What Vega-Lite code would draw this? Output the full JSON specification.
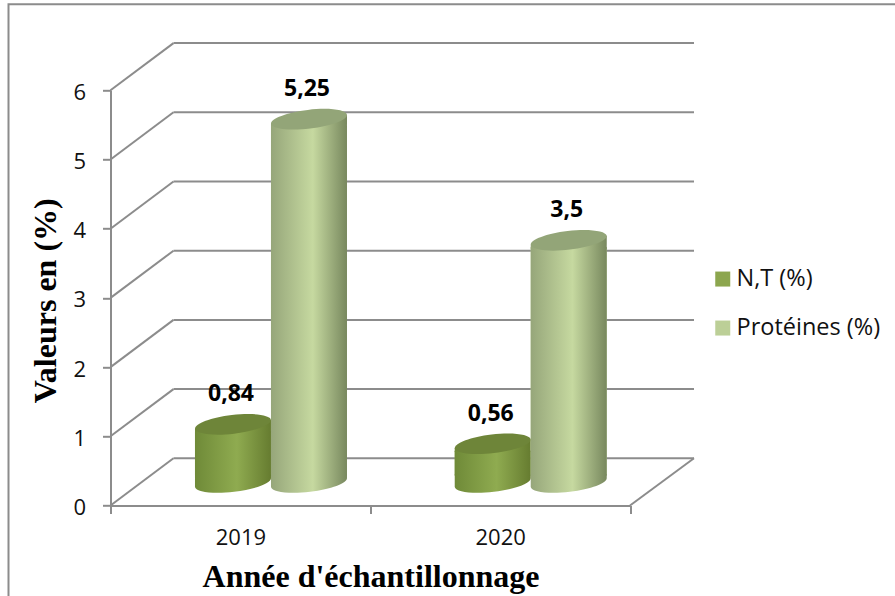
{
  "$schema": "https://vega.github.io/schema/vega-lite/v6.json",
  "width": 519.5,
  "height": 415.2,
  "autosize": "none",
  "padding": {"left": 110.5, "top": 90.3, "right": 265, "bottom": 90.5},
  "background": "white",
  "config": {
    "view": {"stroke": null},
    "locale": {"number": {"decimal": ",", "thousands": " ", "grouping": [3], "currency": ["", " €"]}},
    "axis": {"labelFont": "Open Sans", "labelColor": "#111111", "labelFontSize": 22, "domainColor": "#8c8c8c", "domainWidth": 2, "tickColor": "#8c8c8c", "tickWidth": 2, "tickSize": 8, "grid": false}
  },
  "datasets": {
    "levels": [{"level": 0}, {"level": 1}, {"level": 2}, {"level": 3}, {"level": 4}, {"level": 5}, {"level": 6}],
    "floor": [{"level": 0}],
    "measures": [
      {"year": "2019", "series": "N,T (%)", "value": 0.84},
      {"year": "2019", "series": "Protéines (%)", "value": 5.25},
      {"year": "2020", "series": "N,T (%)", "value": 0.56},
      {"year": "2020", "series": "Protéines (%)", "value": 3.5}
    ]
  },
  "data": {"name": "measures"},
  "layer": [
    {
      "description": "Chart frame",
      "data": {"name": "floor"},
      "mark": {"type": "rect", "fill": null, "stroke": "#8c8c8c", "strokeWidth": 2, "xOffset": -102, "x2Offset": 400, "yOffset": -86, "y2Offset": 200},
      "encoding": {"x": {"value": 0}, "x2": {"value": "width"}, "y": {"value": 0}, "y2": {"value": "height"}}
    },
    {
      "description": "Back wall gridlines",
      "data": {"name": "levels"},
      "mark": {"type": "rule", "color": "#8c8c8c", "strokeWidth": 2, "xOffset": 63, "x2Offset": 64, "yOffset": -47.2},
      "encoding": {
        "x": {"value": 0},
        "x2": {"value": "width"},
        "y": {"field": "level", "type": "quantitative", "scale": {"domain": [0, 6], "nice": false}, "axis": {"values": [0, 1, 2, 3, 4, 5, 6], "format": "d", "labelPadding": 17, "labelOffset": 2, "title": "Valeurs en (%)", "titleFont": "Liberation Serif", "titleFontWeight": "bold", "titleFontSize": 32, "titleColor": "#000000", "titleX": -55, "titleY": 210, "titleAnchor": "middle", "titleBaseline": "alphabetic"}}
      }
    },
    {
      "description": "Side wall lines running from the axis to the back wall",
      "data": {"name": "levels"},
      "mark": {"type": "rule", "color": "#8c8c8c", "strokeWidth": 2, "x2Offset": 63, "y2Offset": -47.2},
      "encoding": {
        "x": {"value": 0},
        "x2": {"value": 0},
        "y": {"field": "level", "type": "quantitative"},
        "y2": {"field": "level"}
      }
    },
    {
      "description": "Right edge of the floor",
      "data": {"name": "floor"},
      "mark": {"type": "rule", "color": "#8c8c8c", "strokeWidth": 2, "x2Offset": 64, "y2Offset": -47.2},
      "encoding": {
        "x": {"value": "width"},
        "x2": {"value": "width"},
        "y": {"field": "level", "type": "quantitative"},
        "y2": {"field": "level"}
      }
    },
    {
      "description": "N,T cylinders: flat body carrying the legend colour",
      "transform": [{"filter": "datum.series === 'N,T (%)'"}],
      "mark": {"type": "bar", "yOffset": -16, "y2Offset": -30},
      "encoding": {
        "x": {"field": "year", "type": "nominal", "scale": {"domain": ["2019", "2020"], "paddingInner": 0, "paddingOuter": 0}, "axis": {"tickBand": "extent", "labelAngle": 0, "labelPadding": 14, "title": "Année d'échantillonnage", "titleFont": "Liberation Serif", "titleFontWeight": "bold", "titleFontSize": 32, "titleColor": "#000000", "titleX": 260, "titleY": 80.5, "titleAnchor": "middle", "titleBaseline": "alphabetic"}},
        "xOffset": {"field": "series", "scale": {"domain": ["N,T (%)", "Protéines (%)"], "paddingInner": 0, "paddingOuter": 0.709, "align": 0.784}},
        "y": {"field": "value", "type": "quantitative"},
        "y2": {"datum": 0},
        "color": {"field": "series", "type": "nominal", "scale": {"domain": ["N,T (%)", "Protéines (%)"], "range": ["#8ca64e", "#bccf97"]}, "legend": {"orient": "none", "legendX": 600.5, "legendY": 177, "title": null, "symbolType": "square", "symbolSize": 225, "symbolStrokeWidth": 0, "labelFont": "Open Sans", "labelFontSize": 23.5, "labelColor": "#111111", "rowPadding": 24, "labelOffset": 2}}
      }
    },
    {
      "transform": [{"filter": "datum.series === 'N,T (%)'"}],
      "mark": {"type": "bar", "yOffset": -16, "y2Offset": -30, "fill": {"x1": 0, "y1": 0, "x2": 1, "y2": 0, "gradient": "linear", "stops": [{"offset": 0, "color": "#6f8a38"}, {"offset": 0.55, "color": "#8fab50"}, {"offset": 1, "color": "#667c30"}]}},
      "encoding": {
        "x": {"field": "year", "type": "nominal"},
        "xOffset": {"field": "series"},
        "y": {"field": "value", "type": "quantitative"},
        "y2": {"datum": 0}
      }
    },
    {
      "transform": [{"filter": "datum.series === 'N,T (%)'"}],
      "mark": {"type": "point", "filled": true, "size": 5776, "opacity": 1, "yOffset": -23, "shape": "M-1,-.22L1,-.22L1,-.118A1.007,.25,-6.7,0,1,-1,.118Z", "fill": {"x1": 0, "y1": 0, "x2": 1, "y2": 0, "gradient": "linear", "stops": [{"offset": 0, "color": "#6f8a38"}, {"offset": 0.55, "color": "#8fab50"}, {"offset": 1, "color": "#667c30"}]}},
      "encoding": {
        "x": {"field": "year", "type": "nominal"},
        "xOffset": {"field": "series"},
        "y": {"datum": 0}
      }
    },
    {
      "transform": [{"filter": "datum.series === 'N,T (%)'"}],
      "mark": {"type": "point", "filled": true, "size": 5776, "opacity": 1, "yOffset": -23, "shape": "M-1,.118L1,-.118L1,.22L-1,.22Z", "fill": {"x1": 0, "y1": 0, "x2": 1, "y2": 0, "gradient": "linear", "stops": [{"offset": 0, "color": "#6f8a38"}, {"offset": 0.55, "color": "#8fab50"}, {"offset": 1, "color": "#667c30"}]}},
      "encoding": {
        "x": {"field": "year", "type": "nominal"},
        "xOffset": {"field": "series"},
        "y": {"field": "value", "type": "quantitative"}
      }
    },
    {
      "transform": [{"filter": "datum.series === 'N,T (%)'"}],
      "mark": {"type": "point", "filled": true, "size": 5776, "opacity": 1, "yOffset": -23, "shape": "M-1,.118A1.007,.25,-6.7,0,1,1,-.118A1.007,.25,-6.7,0,1,-1,.118Z", "fill": "#6e8539"},
      "encoding": {
        "x": {"field": "year", "type": "nominal"},
        "xOffset": {"field": "series"},
        "y": {"field": "value", "type": "quantitative"}
      }
    },
    {
      "description": "Protein cylinders: flat body carrying the legend colour",
      "transform": [{"filter": "datum.series === 'Protéines (%)'"}],
      "mark": {"type": "bar", "yOffset": -16, "y2Offset": -30},
      "encoding": {
        "x": {"field": "year", "type": "nominal"},
        "xOffset": {"field": "series"},
        "y": {"field": "value", "type": "quantitative"},
        "y2": {"datum": 0},
        "color": {"field": "series", "type": "nominal"}
      }
    },
    {
      "transform": [{"filter": "datum.series === 'Protéines (%)'"}],
      "mark": {"type": "bar", "yOffset": -16, "y2Offset": -30, "fill": {"x1": 0, "y1": 0, "x2": 1, "y2": 0, "gradient": "linear", "stops": [{"offset": 0, "color": "#96a67a"}, {"offset": 0.55, "color": "#c6d9a0"}, {"offset": 1, "color": "#78885e"}]}},
      "encoding": {
        "x": {"field": "year", "type": "nominal"},
        "xOffset": {"field": "series"},
        "y": {"field": "value", "type": "quantitative"},
        "y2": {"datum": 0}
      }
    },
    {
      "transform": [{"filter": "datum.series === 'Protéines (%)'"}],
      "mark": {"type": "point", "filled": true, "size": 5776, "opacity": 1, "yOffset": -23, "shape": "M-1,-.22L1,-.22L1,-.118A1.007,.25,-6.7,0,1,-1,.118Z", "fill": {"x1": 0, "y1": 0, "x2": 1, "y2": 0, "gradient": "linear", "stops": [{"offset": 0, "color": "#96a67a"}, {"offset": 0.55, "color": "#c6d9a0"}, {"offset": 1, "color": "#78885e"}]}},
      "encoding": {
        "x": {"field": "year", "type": "nominal"},
        "xOffset": {"field": "series"},
        "y": {"datum": 0}
      }
    },
    {
      "transform": [{"filter": "datum.series === 'Protéines (%)'"}],
      "mark": {"type": "point", "filled": true, "size": 5776, "opacity": 1, "yOffset": -23, "shape": "M-1,.118L1,-.118L1,.22L-1,.22Z", "fill": {"x1": 0, "y1": 0, "x2": 1, "y2": 0, "gradient": "linear", "stops": [{"offset": 0, "color": "#96a67a"}, {"offset": 0.55, "color": "#c6d9a0"}, {"offset": 1, "color": "#78885e"}]}},
      "encoding": {
        "x": {"field": "year", "type": "nominal"},
        "xOffset": {"field": "series"},
        "y": {"field": "value", "type": "quantitative"}
      }
    },
    {
      "transform": [{"filter": "datum.series === 'Protéines (%)'"}],
      "mark": {"type": "point", "filled": true, "size": 5776, "opacity": 1, "yOffset": -23, "shape": "M-1,.118A1.007,.25,-6.7,0,1,1,-.118A1.007,.25,-6.7,0,1,-1,.118Z", "fill": "#93a578"},
      "encoding": {
        "x": {"field": "year", "type": "nominal"},
        "xOffset": {"field": "series"},
        "y": {"field": "value", "type": "quantitative"}
      }
    },
    {
      "description": "Value labels above each cylinder",
      "mark": {"type": "text", "font": "Open Sans", "fontWeight": "bold", "fontSize": 23, "color": "#000000", "dx": -2, "yOffset": -53, "baseline": "middle"},
      "encoding": {
        "x": {"field": "year", "type": "nominal"},
        "xOffset": {"field": "series"},
        "y": {"field": "value", "type": "quantitative"},
        "text": {"field": "value", "type": "quantitative", "format": ".3~g"}
      }
    }
  ]
}
